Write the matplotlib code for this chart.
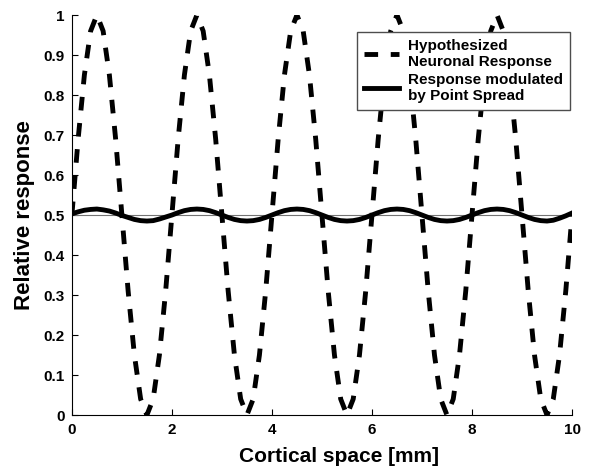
import numpy as np
from matplotlib import pyplot as plt

plt.rcParams['font.family'] = ['Liberation Sans', 'DejaVu Sans']
plt.rcParams['font.weight'] = 'bold'

# cortical position [mm], sampled every 1/8 mm
space_mm = np.linspace(0, 10, 81)

# hypothesized neuronal response
neuronal = [
    0.50, 0.69, 0.85, 0.96, 1.00, 0.96, 0.85, 0.69, 0.50, 0.31, 0.15, 0.04, 0.00, 0.04, 0.15, 0.31,
    0.50, 0.69, 0.85, 0.96, 1.00, 0.96, 0.85, 0.69, 0.50, 0.31, 0.15, 0.04, 0.00, 0.04, 0.15, 0.31,
    0.50, 0.69, 0.85, 0.96, 1.00, 0.96, 0.85, 0.69, 0.50, 0.31, 0.15, 0.04, 0.00, 0.04, 0.15, 0.31,
    0.50, 0.69, 0.85, 0.96, 1.00, 0.96, 0.85, 0.69, 0.50, 0.31, 0.15, 0.04, 0.00, 0.04, 0.15, 0.31,
    0.50, 0.69, 0.85, 0.96, 1.00, 0.96, 0.85, 0.69, 0.50, 0.31, 0.15, 0.04, 0.00, 0.04, 0.15, 0.31,
    0.50,
]

# response after point-spread blurring (solid curve)
blurred = [
    0.503, 0.508, 0.512, 0.514, 0.515, 0.513, 0.510, 0.505, 0.499, 0.494, 0.489, 0.486, 0.485, 0.486, 0.490, 0.495,
    0.500, 0.506, 0.511, 0.514, 0.515, 0.514, 0.511, 0.506, 0.500, 0.494, 0.489, 0.486, 0.485, 0.486, 0.489, 0.494,
    0.500, 0.506, 0.511, 0.514, 0.515, 0.514, 0.511, 0.506, 0.500, 0.494, 0.489, 0.486, 0.485, 0.486, 0.489, 0.494,
    0.500, 0.506, 0.511, 0.514, 0.515, 0.514, 0.511, 0.506, 0.500, 0.494, 0.489, 0.486, 0.485, 0.486, 0.489, 0.494,
    0.500, 0.506, 0.511, 0.514, 0.515, 0.514, 0.511, 0.506, 0.500, 0.494, 0.489, 0.486, 0.485, 0.487, 0.492, 0.498,
    0.505,
]

baseline = 0.5

fig = plt.figure(figsize=(5.94, 4.69), dpi=100)
ax = fig.add_axes([0.121, 0.115, 0.842, 0.853])

ax.plot([0, 10], [baseline, baseline], color='0.45', lw=0.8)
ax.plot(space_mm, neuronal, color='k', lw=3.5, linestyle=(0, (2.8, 2.6)),
        label='Hypothesized\nNeuronal Response')
ax.plot(space_mm, blurred, color='k', lw=3.5,
        label='Response modulated\nby Point Spread')

ax.set_xlim(0, 10)
ax.set_ylim(0, 1)
ax.set_xticks([0, 2, 4, 6, 8, 10])
ax.set_yticks(np.arange(0, 1.01, 0.1))
ax.set_yticklabels(['0', '0.1', '0.2', '0.3', '0.4', '0.5', '0.6', '0.7', '0.8', '0.9', '1'])
ax.tick_params(direction='in', length=4, width=0.8, labelsize=11, pad=6)
ax.tick_params(axis='y', pad=5)
for t in ax.get_xticklabels() + ax.get_yticklabels():
    t.set_fontweight('bold')
ax.spines['top'].set_visible(False)
ax.spines['right'].set_visible(False)

ax.set_xlabel('Cortical space [mm]', fontsize=15, fontweight='bold')
ax.xaxis.set_label_coords(0.534, -0.08)
ax.set_ylabel('Relative response', fontsize=16, fontweight='bold', labelpad=6)

leg = ax.legend(loc='upper right', bbox_to_anchor=(0.996, 0.9575), borderaxespad=0,
                fancybox=False, edgecolor='0.3', framealpha=1, handlelength=2.3,
                fontsize=11, borderpad=0.45, labelspacing=0.25, handletextpad=0.6)
leg.get_frame().set_linewidth(1.0)
for t in leg.get_texts():
    t.set_fontweight('bold')

fig.savefig('out.png', dpi=100)
